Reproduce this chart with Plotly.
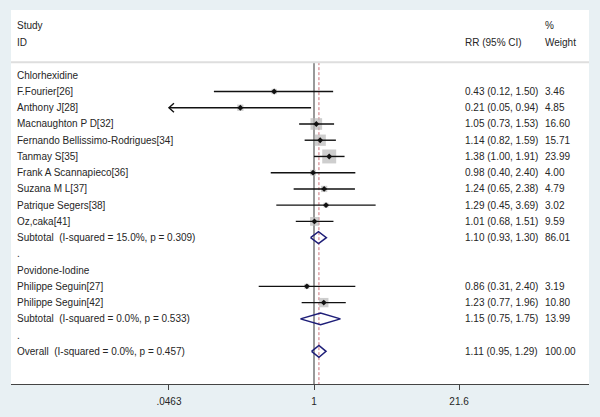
import plotly.graph_objects as go
import math

# ---------------- data ----------------
row_labels = ["Chlorhexidine", "F.Fourier[26]", "Anthony J[28]", "Macnaughton P D[32]",
              "Fernando Bellissimo-Rodrigues[34]", "Tanmay S[35]", "Frank A Scannapieco[36]",
              "Suzana M L[37]", "Patrique Segers[38]", "Oz,caka[41]",
              "Subtotal  (I-squared = 15.0%, p = 0.309)", ".", "Povidone-Iodine",
              "Philippe Seguin[27]", "Philippe Seguin[42]",
              "Subtotal  (I-squared = 0.0%, p = 0.533)", ".",
              "Overall  (I-squared = 0.0%, p = 0.457)"]
row_kind = ["group", "study", "study", "study", "study", "study", "study", "study", "study",
            "study", "pooled", "blank", "group", "study", "study", "pooled", "blank", "pooled"]
est = [None, 0.43, 0.21, 1.05, 1.14, 1.38, 0.98, 1.24, 1.29, 1.01, 1.10, None, None,
       0.86, 1.23, 1.15, None, 1.11]
ci_low = [None, 0.12, 0.045, 0.73, 0.82, 1.00, 0.40, 0.65, 0.45, 0.68, 0.93, None, None,
          0.31, 0.77, 0.75, None, 0.95]
ci_high = [None, 1.50, 0.94, 1.53, 1.59, 1.91, 2.40, 2.38, 3.69, 1.51, 1.30, None, None,
           2.40, 1.96, 1.75, None, 1.29]
ci_text = ["", "0.43 (0.12, 1.50)", "0.21 (0.05, 0.94)", "1.05 (0.73, 1.53)",
           "1.14 (0.82, 1.59)", "1.38 (1.00, 1.91)", "0.98 (0.40, 2.40)", "1.24 (0.65, 2.38)",
           "1.29 (0.45, 3.69)", "1.01 (0.68, 1.51)", "1.10 (0.93, 1.30)", "", "",
           "0.86 (0.31, 2.40)", "1.23 (0.77, 1.96)", "1.15 (0.75, 1.75)", "",
           "1.11 (0.95, 1.29)"]
weights = [None, 3.46, 4.85, 16.60, 15.71, 23.99, 4.00, 4.79, 3.02, 9.59, 86.01, None, None,
           3.19, 10.80, 13.99, None, 100.00]
weight_text = ["", "3.46", "4.85", "16.60", "15.71", "23.99", "4.00", "4.79", "3.02", "9.59",
               "86.01", "", "", "3.19", "10.80", "13.99", "", "100.00"]
tick_vals = [0.0463, 1, 21.6]
tick_text = [".0463", "1", "21.6"]
null_value = 1
overall_value = 1.11

# ---------------- layout constants ----------------
W, H = 600, 417
ml, mr, mt, mb = 11, 11, 10, 27
px_one = 314.0           # pixel x of RR = 1
px_per_dec = 108.7
row0_px = 76.3
row_px = 16.5
x_lo_log = (ml - px_one) / px_per_dec
x_hi_log = (W - mr - px_one) / px_per_dec
y_top = (mt - row0_px) / row_px
y_bot = (H - mb - row0_px) / row_px
sep_y = (63 - row0_px) / row_px
axis_min = tick_vals[0]

FONT = "Liberation Sans, Arial, sans-serif"
TXT = "#262626"
NAVY = "#1e1e78"

fig = go.Figure()

# reference lines
fig.add_trace(go.Scatter(x=[null_value, null_value], y=[sep_y, y_bot], mode="lines",
                         line=dict(color="#555555", width=1.2), hoverinfo="skip"))
fig.add_trace(go.Scatter(x=[overall_value, overall_value], y=[sep_y, y_bot], mode="lines",
                         line=dict(color="#cc6f78", width=1, dash="3px,2px"), hoverinfo="skip"))

# CI lines for studies
cx, cy = [], []
ax_, ay_ = [], []
head_f = 10 ** (5 / px_per_dec)
for i, k in enumerate(row_kind):
    if k != "study":
        continue
    lo = max(ci_low[i], axis_min)
    cx += [lo, ci_high[i], None]
    cy += [i, i, None]
    if ci_low[i] < axis_min:
        ax_ += [axis_min * head_f, axis_min, axis_min * head_f, None]
        ay_ += [i - 0.28, i, i + 0.28, None]

# weight squares
sq_x, sq_y, sq_s = [], [], []
for i, k in enumerate(row_kind):
    if k == "study":
        sq_x.append(est[i]); sq_y.append(i)
        sq_s.append(2.85 * math.sqrt(weights[i]))
fig.add_trace(go.Scatter(x=sq_x, y=sq_y, mode="markers",
                         marker=dict(symbol="square", size=sq_s, color="#b9b9b9",
                                     line=dict(width=0)), hoverinfo="skip"))
fig.add_trace(go.Scatter(x=cx, y=cy, mode="lines", line=dict(color="#111111", width=1.4),
                         hoverinfo="skip"))
fig.add_trace(go.Scatter(x=ax_, y=ay_, mode="lines", line=dict(color="#111111", width=1.4),
                         hoverinfo="skip"))
fig.add_trace(go.Scatter(x=sq_x, y=sq_y, mode="markers",
                         marker=dict(symbol="diamond", size=4.5, color="#111111"),
                         hoverinfo="skip"))

# diamonds
dh = 6 / row_px
for i, k in enumerate(row_kind):
    if k == "pooled":
        fig.add_trace(go.Scatter(
            x=[ci_low[i], est[i], ci_high[i], est[i], ci_low[i]],
            y=[i, i - dh, i, i + dh, i], mode="lines",
            line=dict(color=NAVY, width=1.5), hoverinfo="skip"))

# text columns
def paper_x(px):
    return (px - ml) / (W - ml - mr)

ann = []
def add_text(px, y, t):
    ann.append(dict(x=paper_x(px), xref="paper", y=y, yref="y", text=t, showarrow=False,
                    xanchor="left", yanchor="middle", xshift=-2,
                    font=dict(family=FONT, size=10, color=TXT)))

for i, lab in enumerate(row_labels):
    add_text(17, i, lab.replace("  ", "&nbsp; "))
    if ci_text[i]:
        add_text(465, i, ci_text[i])
    if weight_text[i]:
        add_text(545, i, weight_text[i])

hdr1 = (26 - row0_px) / row_px
hdr2 = (43 - row0_px) / row_px
add_text(17, hdr1, "Study")
add_text(17, hdr2, "ID")
add_text(465, hdr2, "RR (95% CI)")
add_text(545, hdr1, "%")
add_text(545, hdr2, "Weight")

fig.update_layout(
    width=W, height=H, margin=dict(l=ml, r=mr, t=mt, b=mb),
    paper_bgcolor="#e8f0f3", plot_bgcolor="white", showlegend=False,
    annotations=ann,
    shapes=[dict(type="line", xref="paper", x0=0, x1=1, yref="y", y0=sep_y, y1=sep_y,
                 line=dict(color="#dedede", width=2))],
    xaxis=dict(type="log", range=[x_lo_log, x_hi_log], tickvals=tick_vals, ticktext=tick_text,
               showgrid=False, zeroline=False, showline=True, linecolor="#444444", linewidth=1.3,
               ticks="outside", ticklen=5, tickcolor="#444444", ticklabelstandoff=3,
               tickfont=dict(family=FONT, size=10, color=TXT)),
    yaxis=dict(range=[y_bot, y_top], showgrid=False, zeroline=False, showticklabels=False,
               showline=False),
)

fig.write_html("out.html", config={"displayModeBar": False},
               post_script="document.body.style.margin='0';document.body.style.padding='0';")
